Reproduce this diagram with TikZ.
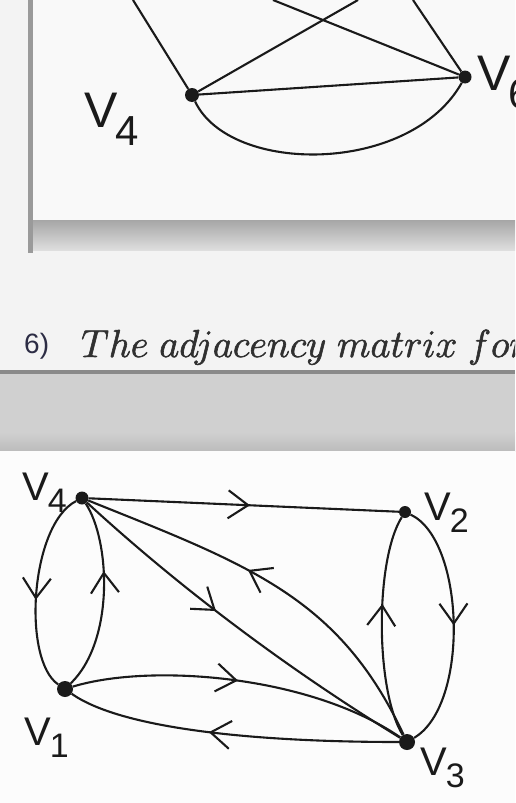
\RequirePackage{fix-cm}
\documentclass[tikz,border=0pt]{standalone}
\usepackage[no-math]{fontspec}
\setmainfont{Liberation Sans}
\usetikzlibrary{arrows.meta,decorations.markings}
\definecolor{ink}{HTML}{1A1A1A}
\definecolor{bgA}{HTML}{F3F3F3}
\definecolor{panelc}{HTML}{F9F9F9}
\definecolor{shA}{HTML}{A6A6A6}
\definecolor{shB}{HTML}{DEDEDE}
\definecolor{barc}{HTML}{9A9A9A}
\definecolor{lineg}{HTML}{8A8A8A}
\definecolor{bandA}{HTML}{D0D0D0}
\definecolor{bandB}{HTML}{BCBCBC}
\definecolor{lowbg}{HTML}{FCFCFC}
\definecolor{txtq}{HTML}{303030}
\definecolor{txtn}{HTML}{2C2C44}
\newcommand{\hvb}[1]{{\fontsize{40}{40}\selectfont V\kern-1pt\raisebox{-12pt}{\fontsize{34}{34}\selectfont #1}}}
\newcommand{\hvt}[1]{{\fontsize{50}{50}\selectfont V\kern-2pt\raisebox{-18pt}{\fontsize{42}{42}\selectfont #1}}}
\newcommand{\heavytext}[1]{\special{pdf:literal direct 2 Tr 0.6 w}#1\special{pdf:literal direct 0 Tr}}
\tikzset{
  edge/.style={line width=2.1pt, draw=ink},
  vdot/.style={circle, fill=ink, inner sep=0pt, minimum size=#1},
  midarrow/.style={postaction={decorate}, decoration={markings,
      mark=at position #1 with {\arrow{Straight Barb[length=20pt,width=28pt,line width=2.1pt]}}}},
  lab/.style={inner sep=0pt, text=ink, anchor=base west},
}
\begin{document}
\begin{tikzpicture}[x=1pt,y=-1pt]
\useasboundingbox (0,0) rectangle (515,803);
\clip (0,0) rectangle (515,803);
% backgrounds
\fill[bgA] (0,0) rectangle (515,803);
\fill[panelc] (33,0) rectangle (515,220);
\shade[top color=shA, bottom color=shB] (33,220) rectangle (515,250);
\fill[barc] (27.5,0) rectangle (33,253);
\fill[lineg] (0,369.5) rectangle (515,374);
\fill[bandA] (0,374) rectangle (515,432);
\shade[top color=bandA, bottom color=bandB] (0,432) rectangle (515,451);
\fill[lowbg] (0,451) rectangle (515,803);

% top graph
\node[vdot=14pt] (t4) at (192,95) {};
\node[vdot=13pt] (t5) at (465,77) {};
\coordinate (ta) at (133,0);
\coordinate (tb) at (358,0);
\coordinate (tc) at (273,0);
\coordinate (td) at (413,0);
\draw[edge] (t4) -- (ta);
\draw[edge] (t4) -- (tb);
\draw[edge] (t5) -- (tc);
\draw[edge] (t5) -- (td);
\draw[edge] (t4) -- (t5);
\draw[edge] (t4) .. controls (230,175) and (410,175) .. (t5);
\node[lab] (lt4) at (84,127) {\hvt{4}};
\node[lab] (lt5) at (477,90) {\hvt{6}};

% caption text
\node[anchor=base west, inner sep=0pt, text=txtn] (num) at (24,353) {\fontsize{28}{28}\selectfont 6)};
\node[anchor=base west, inner sep=0pt, text=txtq] (q) at (81,357) {\fontsize{39}{39}\selectfont \heavytext{$The\ adjacency\ matrix\ for$}};

% bottom graph
\node[vdot=13pt] (b4) at (82,498) {};
\node[vdot=12pt] (b2) at (405,512) {};
\node[vdot=16pt] (b1) at (65,689) {};
\node[vdot=16pt] (b3) at (407,742) {};
\draw[edge, midarrow=0.52] (b4) -- (b2);
\draw[edge, midarrow=0.55] (b4) .. controls (30,525) and (22,660) .. (b1);
\draw[edge, midarrow=0.63] (b1) .. controls (115,640) and (110,540) .. (b4);
\draw[edge, midarrow=0.43] (b4) .. controls (182,590) and (291,671) .. (b3);
\draw[edge, midarrow=0.57] (b3) .. controls (339,597) and (249,565) .. (b4);
\draw[edge, midarrow=0.49] (b1) .. controls (150,663) and (310,675) .. (b3);
\draw[edge, midarrow=0.57] (b3) .. controls (250,742) and (120,728) .. (b1);
\draw[edge, midarrow=0.6] (b3) .. controls (375,690) and (375,560) .. (b2);
\draw[edge, midarrow=0.5] (b2) .. controls (465,540) and (470,705) .. (b3);
\node[lab] (l4) at (22,500) {\hvb{4}};
\node[lab] (l2) at (424,520) {\hvb{2}};
\node[lab] (l1) at (24,745) {\hvb{1}};
\node[lab] (l3) at (420,775) {\hvb{3}};
\end{tikzpicture}
\end{document}
